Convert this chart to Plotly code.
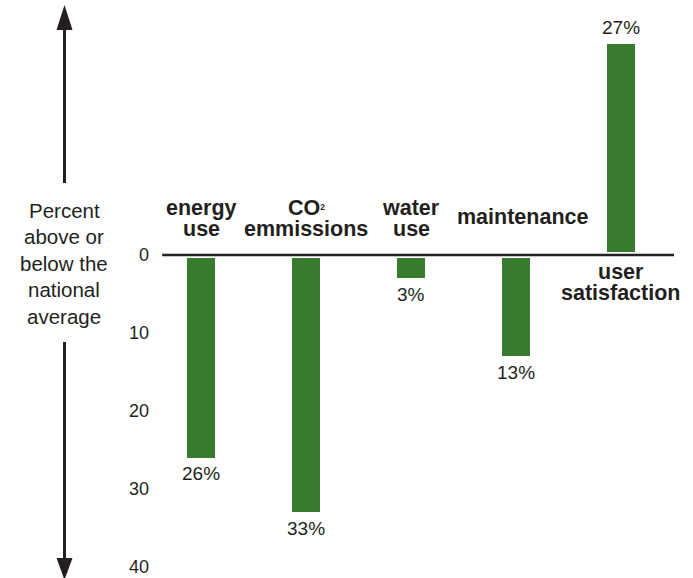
import plotly.graph_objects as go

# Survey results: percent above (+) or below (-) the national average
categories = ["energy use", "CO2 emmissions", "water use", "maintenance", "user satisfaction"]
values = [-26, -33, -3, -13, 27]
label_lines = [
    ["energy", "use"],
    ["CO<span style='font-size:12px'><sup>2</sup></span>", "emmissions"],
    ["water", "use"],
    ["maintenance"],
    ["user", "satisfaction"],
]
tick_values = [0, -10, -20, -30, -40]
tick_labels = ["0", "10", "20", "30", "40"]
axis_title_lines = ["Percent", "above or", "below the", "national", "average"]

W, H = 693, 578
ML = 152
PW = W - ML
GREEN = "#377b2d"
INK = "#231f20"
FONT = "Liberation Sans, Arial, Helvetica, sans-serif"


def px_x(p):
    """figure pixel x -> paper x"""
    return (p - ML) / PW


def px_y(p):
    """figure pixel y -> paper y"""
    return 1 - p / H


fig = go.Figure(
    go.Bar(
        x=categories,
        y=values,
        width=0.267,
        marker=dict(color=GREEN, line=dict(width=0)),
        hoverinfo="skip",
    )
)

annotations = []

# value labels at the end of every bar
for c, v in zip(categories, values):
    annotations.append(dict(
        x=c, y=v, xref="x", yref="y", text=f"{abs(v)}%", showarrow=False,
        yanchor="middle", yshift=-16 if v < 0 else 17,
        font=dict(family=FONT, size=19, color=INK),
    ))

# category labels: above the baseline for negative bars, below it for positive ones
for c, v, lines in zip(categories, values, label_lines):
    n = len(lines)
    for i, line in enumerate(lines):
        if v < 0:
            if n == 1:
                shift = 38
            else:
                shift = 47 - 21 * i
        else:
            shift = -17 - 21 * i
        annotations.append(dict(
            x=c, y=0, xref="x", yref="y", text=f"<b>{line}</b>", showarrow=False,
            yanchor="middle", yshift=shift, xshift=7 if n == 1 else 0,
            font=dict(family=FONT, size=21.5, color=INK),
        ))

# vertical axis title, centred between the two arrows
for i, line in enumerate(axis_title_lines):
    annotations.append(dict(
        x=px_x(64), y=px_y(210 + 26.5 * i), xref="paper", yref="paper",
        text=line, showarrow=False, xanchor="center", yanchor="middle",
        font=dict(family=FONT, size=20.5, color=INK),
    ))

shapes = [
    # arrow shafts
    dict(type="line", xref="paper", yref="paper",
         x0=px_x(64.5), x1=px_x(64.5), y0=px_y(183), y1=px_y(26),
         line=dict(color=INK, width=3)),
    dict(type="line", xref="paper", yref="paper",
         x0=px_x(64.5), x1=px_x(64.5), y0=px_y(342), y1=px_y(562),
         line=dict(color=INK, width=3)),
    # arrow heads
    dict(type="path", xref="paper", yref="paper",
         path=f"M {px_x(64.5)},{px_y(5)} L {px_x(72.5)},{px_y(30)} L {px_x(56.5)},{px_y(30)} Z",
         fillcolor=INK, line=dict(width=0)),
    dict(type="path", xref="paper", yref="paper",
         path=f"M {px_x(64.5)},{px_y(580)} L {px_x(72.5)},{px_y(558)} L {px_x(56.5)},{px_y(558)} Z",
         fillcolor=INK, line=dict(width=0)),
    # baseline with a thin white gap around it
    dict(type="line", xref="x", yref="y", x0=-0.37, x1=4.505, y0=0, y1=0,
         line=dict(color="white", width=6), layer="above"),
    dict(type="line", xref="x", yref="y", x0=-0.37, x1=4.505, y0=0, y1=0,
         line=dict(color=INK, width=2.5), layer="above"),
]

fig.update_layout(
    width=W, height=H,
    margin=dict(l=ML, r=0, t=0, b=0, pad=0),
    paper_bgcolor="white", plot_bgcolor="white",
    showlegend=False,
    bargap=0,
    annotations=annotations,
    shapes=shapes,
    xaxis=dict(range=[-0.467, 4.686], showticklabels=False, showgrid=False,
               zeroline=False, showline=False, ticks=""),
    yaxis=dict(range=[-41.41, 32.69], tickvals=tick_values, ticktext=tick_labels,
               showgrid=False, zeroline=False, showline=False, ticks="",
               ticklabelstandoff=2,
               tickfont=dict(family=FONT, size=18, color=INK)),
)

fig.write_html("out.html")
